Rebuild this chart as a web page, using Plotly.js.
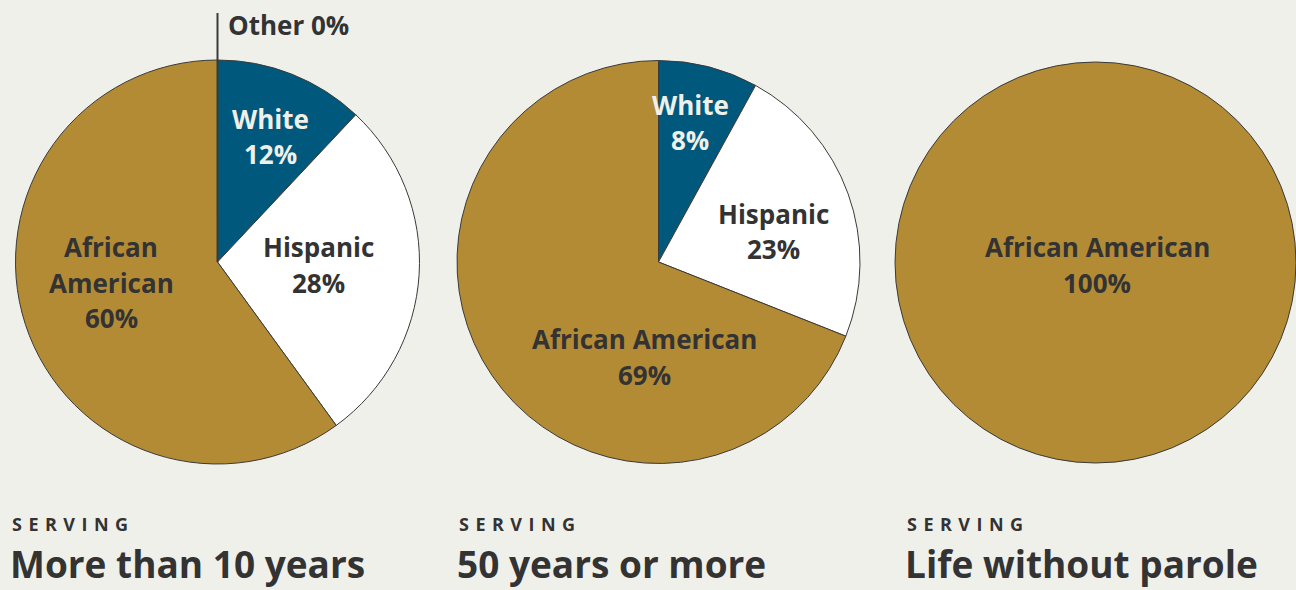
<!DOCTYPE html>
<html><head><meta charset="utf-8">
<script src="https://cdn.plot.ly/plotly-3.0.1.min.js"></script>
<style>html,body{margin:0;padding:0;background:#f0f0eb;}#chart{width:1296px;height:590px;}</style>
</head><body><div id="chart"></div>
<script>
// ---- data ----
const groups = ["More than 10 years", "50 years or more", "Life without parole"];
const categories = ["White", "Hispanic", "African American", "Other"];
const shareMoreThan10 = [12, 28, 60, 0];
const share50OrMore = [8, 23, 69, 0];
const shareLifeWithoutParole = [0, 0, 100, 0];
const subtitle = "SERVING";

// ---- styles / layout ----
const W = 1296, H = 590;
const colors = {"White": "#00587c", "Hispanic": "#ffffff", "African American": "#b38b35", "Other": "#888888"};
const textColors = {"White": "#f0f0eb", "Hispanic": "#333333", "African American": "#333333", "Other": "#333333"};
const FONT = "Open Sans, Noto Sans, sans-serif";
const pies = [
  {values: shareMoreThan10, cx: 217.5, cy: 262, r: 202, titleX: 10},
  {values: share50OrMore, cx: 658.5, cy: 262, r: 201.5, titleX: 457},
  {values: shareLifeWithoutParole, cx: 1095.5, cy: 262.5, r: 200.5, titleX: 905}
];
// label line positions (px) per pie per category; lines split for wrapping
const labelLayout = [
  {"White": {x: 270, y: 119, lines: ["White"]},
   "Hispanic": {x: 318, y: 247, lines: ["Hispanic"]},
   "African American": {x: 111, y: 247, lines: ["African", "American"]}},
  {"White": {x: 690, y: 105, lines: ["White"]},
   "Hispanic": {x: 773, y: 214, lines: ["Hispanic"]},
   "African American": {x: 644, y: 339, lines: ["African American"]}},
  {"African American": {x: 1097, y: 247, lines: ["African American"]}}
];
const LINE_H = 35.5;

const px = x => x / W;
const py = y => 1 - y / H;

const traces = [];
const annotations = [];
pies.forEach((p, i) => {
  const labs = [], vals = [], cols = [];
  categories.forEach((c, k) => {
    if (p.values[k] > 0) { labs.push(c); vals.push(p.values[k]); cols.push(colors[c]); }
  });
  traces.push({
    type: "pie", labels: labs, values: vals, sort: false, direction: "clockwise", rotation: 0,
    marker: {colors: cols, line: {color: "#3a3a3a", width: 1}},
    textinfo: "none", hoverinfo: "none", showlegend: false,
    domain: {x: [px(p.cx - p.r), px(p.cx + p.r)], y: [py(p.cy + p.r), py(p.cy - p.r)]}
  });
  categories.forEach((c, k) => {
    const L = labelLayout[i][c];
    if (!L) return;
    const lines = L.lines.concat([p.values[k] + "%"]);
    lines.forEach((t, j) => {
      annotations.push({xref: "paper", yref: "paper", x: px(L.x), y: py(L.y + j * LINE_H),
        xanchor: "center", yanchor: "middle", showarrow: false, text: t,
        font: {family: FONT, size: 26, weight: 700, color: textColors[c]}});
    });
  });
  annotations.push({xref: "paper", yref: "paper", x: px(p.titleX), y: py(524), xanchor: "left", yanchor: "middle",
    showarrow: false, text: subtitle.split("").join("\u00a0\u200a"),
    font: {family: FONT, size: 18, weight: 700, color: "#333333"}});
  annotations.push({xref: "paper", yref: "paper", x: px(p.titleX - 2), y: py(563), xanchor: "left", yanchor: "middle",
    showarrow: false, text: groups[i],
    font: {family: FONT, size: 37, weight: 700, color: "#333333"}});
});
// "Other 0%" callout for first pie
annotations.push({xref: "paper", yref: "paper", x: px(226), y: py(25), xanchor: "left", yanchor: "middle",
  showarrow: false, text: categories[3] + " " + shareMoreThan10[3] + "%",
  font: {family: FONT, size: 26, weight: 700, color: "#333333"}});
const shapes = [{type: "line", xref: "paper", yref: "paper", x0: px(217.5), x1: px(217.5), y0: py(13), y1: py(262),
  line: {color: "#3a3a3a", width: 2}}];

Plotly.newPlot("chart", traces, {
  width: W, height: H, margin: {l: 0, r: 0, t: 0, b: 0},
  paper_bgcolor: "#f0f0eb", plot_bgcolor: "#f0f0eb",
  annotations: annotations, shapes: shapes, showlegend: false
}, {displayModeBar: false, staticPlot: true});
</script></body></html>
